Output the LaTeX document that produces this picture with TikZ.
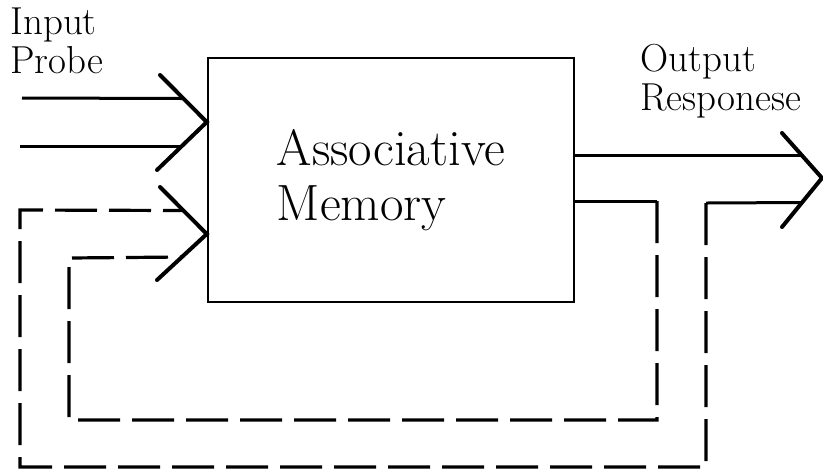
\documentclass[tikz,border=0pt]{standalone}
\usetikzlibrary{calc}

\tikzset{
  wire/.style={line width=1.5pt},
  chevron/.style={line width=2pt, line cap=round, line join=miter},
  feedback/.style={line width=1.6pt, dash pattern=on 21pt off 6pt},
  caption/.style={inner sep=0, anchor=base west, align=left,
                  font=\fontsize{19.5}{19.5}\selectfont},
}

\begin{document}
\begin{tikzpicture}[x=0.5pt,y=-0.5pt]
  \useasboundingbox (0,0) rectangle (823,473);

  % memory block and labels
  \node[draw, line width=1.2pt, minimum width=183pt, minimum height=122pt,
        align=left, font=\fontsize{25.5}{27.5}\selectfont] (mem) at (391,180)
        {Associative\\Memory};
  \node[caption] (in) at (10,73) {Input\\Probe};
  \node[caption] (out) at (640,110) {Output\\Responese};

  % open heads
  \coordinate (a1) at (160,75);  \coordinate (ta) at (mem.west |- 0,122); \coordinate (a2) at (157,170);
  \coordinate (b1) at (160,187); \coordinate (tb) at (mem.west |- 0,234); \coordinate (b2) at (157,280);
  \coordinate (c1) at (782,133); \coordinate (tc) at (822,178);           \coordinate (c2) at (782,227);
  \draw[chevron] (a1) -- (ta) -- (a2);
  \draw[chevron] (b1) -- (tb) -- (b2);
  \draw[chevron] (c1) -- (tc) -- (c2);

  % where the lines meet the heads
  \coordinate (e1) at ($(a1)!.5!(ta)$);
  \coordinate (e2) at ($(ta)!.5!(a2)$);
  \coordinate (e3) at ($(b1)!.5!(tb)$);
  \coordinate (e4) at ($(tb)!.5!(b2)$);
  \coordinate (r1) at ($(c1)!.5!(tc)$);
  \coordinate (r2) at ($(tc)!.5!(c2)$);

  % probe inputs
  \coordinate (s1) at (22,98);
  \coordinate (s2) at (20,146);
  \draw[wire] (s1) -- (e1);
  \draw[wire] (s2) -- (e2);

  % responses
  \coordinate (m1) at (657,201);
  \coordinate (o1) at (706,203);
  \draw[wire] (mem.east |- r1) -- (r1);
  \draw[wire] (mem.east |- m1) -- (m1);
  \draw[wire] (o1) -- (r2);

  % fed back to the input
  \draw[feedback] (m1) -- (657,420) -- (69,420) -- (69,258) -- (e4);
  \draw[feedback] (o1) -- (706,467) -- (20,467) -- (20,210) -- (e3);
\end{tikzpicture}
\end{document}
